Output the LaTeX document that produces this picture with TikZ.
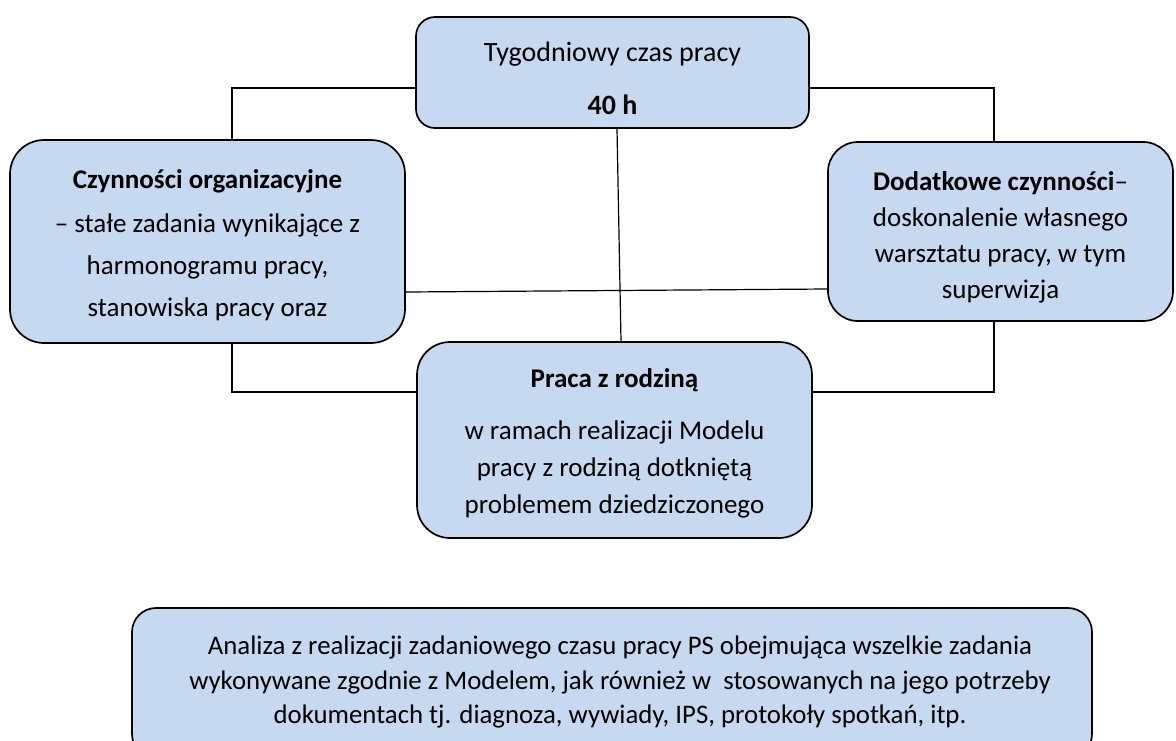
\documentclass[tikz,border=0pt]{standalone}
\usepackage{fontspec}
\setmainfont{Carlito}
\definecolor{boxblue}{RGB}{198,217,240}
\begin{document}
\begin{tikzpicture}[x=1pt,y=-1pt,
  box/.style={draw=black, line width=1.7pt, fill=boxblue, inner sep=0pt},
  conn/.style={draw=black, line width=1.2pt},
  txt/.style={inner sep=0pt, align=center}]
\useasboundingbox (0,0) rectangle (1176,740);
\clip (0,0) rectangle (1176,740);

% boxes
\node[box, rounded corners=19pt, minimum width=393pt, minimum height=111pt] (top) at (612.5,72.5) {};
\node[box, rounded corners=34pt, minimum width=395pt, minimum height=203pt] (left) at (207.5,241.5) {};
\node[box, rounded corners=30pt, minimum width=345pt, minimum height=179pt] (right) at (1000.5,231.5) {};
\node[box, rounded corners=33pt, minimum width=395pt, minimum height=196pt] (praca) at (614.5,440) {};
\node[box, rounded corners=24pt, minimum width=960pt, minimum height=150pt] (analiza) at (612,683) {};

% texts
\node[txt, font=\fontsize{28}{36}\selectfont] (topT) at ([yshift=-5.5pt]top.center)
  {Tygodniowy czas pracy\\[17pt]\textbf{40 h}};
\node[txt, font=\fontsize{27}{42}\selectfont] (leftT) at ([yshift=-4pt]left.center)
  {\textbf{Czynności organizacyjne}\\[2pt]– stałe zadania wynikające z\\harmonogramu pracy,\\stanowiska pracy oraz};
\node[txt, font=\fontsize{27}{36}\selectfont] (rightT) at ([yshift=-6pt]right.center)
  {\textbf{Dodatkowe czynności}–\\doskonalenie własnego\\warsztatu pracy, w tym\\superwizja};
\node[txt, font=\fontsize{27}{37}\selectfont] (pracaT) at ([yshift=-3pt]praca.center)
  {\textbf{Praca z rodziną}\\[15pt]w ramach realizacji Modelu\\pracy z rodziną dotkniętą\\problemem dziedziczonego};
\node[txt, font=\fontsize{26.8}{34.5}\selectfont] (analizaT) at ([xshift=8pt,yshift=1pt]analiza.center)
  {Analiza z realizacji zadaniowego czasu pracy PS obejmująca wszelkie zadania\\
   wykonywane zgodnie z Modelem, jak również w\ \ stosowanych na jego potrzeby\\
   dokumentach tj. diagnoza, wywiady, IPS, protokoły spotkań, itp.};

% connector bends
\coordinate (lA) at (232,88);
\coordinate (rA) at (994,88);
\coordinate (lB) at (232,392);
\coordinate (rB) at (994,392);
\coordinate (vT) at (617,0);
\coordinate (vB) at (621,0);
\coordinate (hL) at (0,292);
\coordinate (hR) at (0,289);

\draw[conn] (top.west |- lA) -- (lA) -- (left.north -| lA);
\draw[conn] (top.east |- rA) -- (rA) -- (right.north -| rA);
\draw[conn] (top.south -| vT) -- (praca.north -| vB);
\draw[conn] (left.east |- hL) -- (right.west |- hR);
\draw[conn] (left.south -| lB) -- (lB) -- (praca.west |- lB);
\draw[conn] (right.south -| rB) -- (rB) -- (praca.east |- rB);
\end{tikzpicture}
\end{document}
